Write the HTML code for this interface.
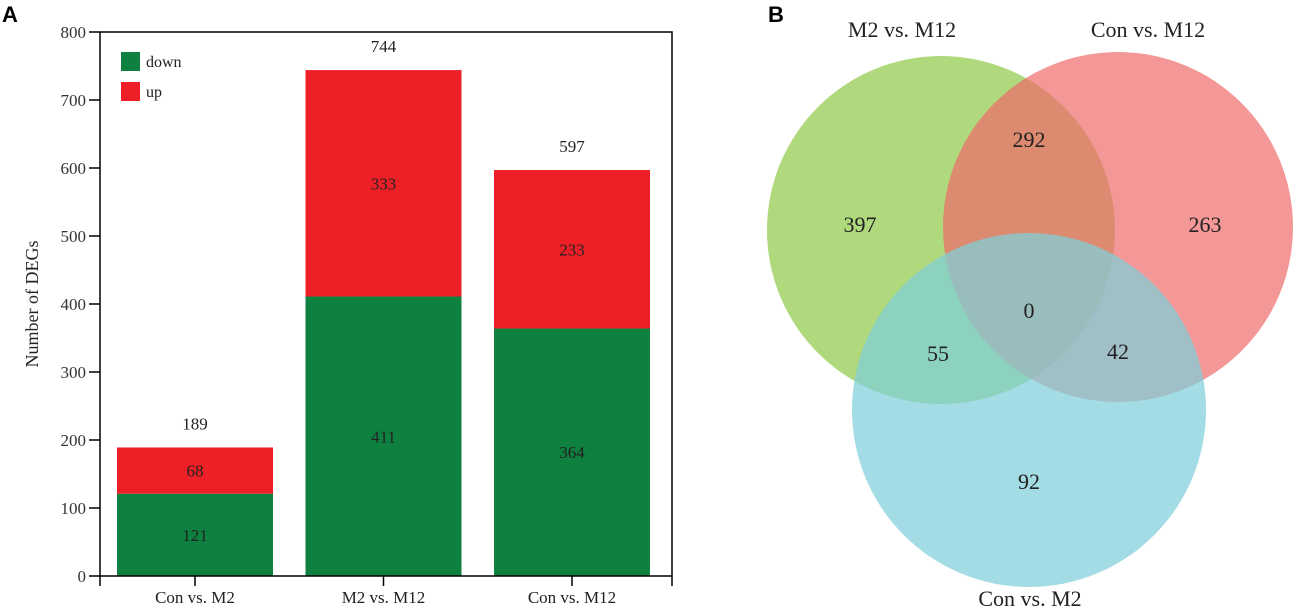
<!DOCTYPE html>
<html><head><meta charset="utf-8"><style>
body{margin:0;background:#fff}
svg text{font-family:"Liberation Serif",serif}
</style></head><body>
<svg width="1293" height="608" viewBox="0 0 1293 608" xmlns="http://www.w3.org/2000/svg">
<text x="2" y="22" style="font-family:'Liberation Sans',sans-serif" font-weight="bold" font-size="22">A</text>
<text x="768" y="22" style="font-family:'Liberation Sans',sans-serif" font-weight="bold" font-size="22">B</text>
<g id="chart"></g>
<g>
<circle cx="941" cy="230" r="174" fill="#9fcf5f" fill-opacity="0.82"/>
<circle cx="1118" cy="227" r="175" fill="#ef6b6b" fill-opacity="0.7"/>
<circle cx="1029" cy="410" r="177" fill="#7fcfd9" fill-opacity="0.72"/>
<g font-size="22" fill="#222" text-anchor="middle">
<text x="902" y="37">M2 vs. M12</text>
<text x="1148" y="37">Con vs. M12</text>
<text x="1030" y="606">Con vs. M2</text>
<text x="860" y="232">397</text>
<text x="1029" y="147">292</text>
<text x="1205" y="232">263</text>
<text x="1029" y="318">0</text>
<text x="938" y="361">55</text>
<text x="1118" y="359">42</text>
<text x="1029" y="489">92</text>
</g></g>
</svg>
<script>
const categories=["Con vs. M2","M2 vs. M12","Con vs. M12"];
const downVals=[121,411,364];
const upVals=[68,333,233];
const totals=[189,744,597];
const yTicks=[0,100,200,300,400,500,600,700,800];
const NS="http://www.w3.org/2000/svg";
const g=document.getElementById('chart');
const X0=100,X1=672,Y0=576,Y1=32,YMAX=800;
const y=v=>Y0-(v/YMAX)*(Y0-Y1);
const xc=i=>X0+95+i*188.5;
const BW=156;
function mk(t,a){const e=document.createElementNS(NS,t);for(const k in a)e.setAttribute(k,a[k]);g.appendChild(e);return e;}
let e;
categories.forEach((c,i)=>{
 const cx=xc(i), d=downVals[i], u=upVals[i];
 e=mk('rect',{x:cx-BW/2,y:y(d),width:BW,height:Y0-y(d),fill:'#0e8040'});
 
 
 e=mk('rect',{x:cx-BW/2,y:y(d+u),width:BW,height:y(d)-y(d+u),fill:'#ee1f27'});
 
 
 e=mk('text',{x:cx,y:y(d/2)+6,'text-anchor':'middle','font-size':17,fill:'#222'});e.textContent=d;
 
 
 e=mk('text',{x:cx,y:y(d+u/2)+6,'text-anchor':'middle','font-size':17,fill:'#222'});e.textContent=u;
 
 
 e=mk('text',{x:cx,y:y(totals[i])-18,'text-anchor':'middle','font-size':17,fill:'#222'});e.textContent=totals[i];
 
 
 e=mk('line',{x1:cx,x2:cx,y1:Y0,y2:Y0+10,stroke:'#000','stroke-width':1.5});
 
 
 e=mk('text',{x:cx,y:603,'text-anchor':'middle','font-size':17,fill:'#222'});e.textContent=c;
 
 
});
e=mk('rect',{x:X0,y:Y1,width:X1-X0,height:Y0-Y1,fill:'none',stroke:'#000','stroke-width':1.5});


e=mk('line',{x1:X0,x2:X0,y1:Y0,y2:Y0+10,stroke:'#000','stroke-width':1.5});


e=mk('line',{x1:X1,x2:X1,y1:Y0,y2:Y0+10,stroke:'#000','stroke-width':1.5});


yTicks.forEach(t=>{
 e=mk('line',{x1:X0-11,x2:X0,y1:y(t),y2:y(t),stroke:'#000','stroke-width':1.5});
 
 
 e=mk('text',{x:X0-14,y:y(t)+6,'text-anchor':'end','font-size':17,fill:'#333'});e.textContent=t;
 
 
});
e=mk('text',{x:0,y:0,transform:'translate(38,304) rotate(-90)','text-anchor':'middle','font-size':18,fill:'#222'});e.textContent='Number of DEGs';


e=mk('rect',{x:121,y:52,width:19,height:19,fill:'#0e8040'});


e=mk('rect',{x:121,y:82,width:19,height:19,fill:'#ee1f27'});


e=mk('text',{x:146,y:67,'font-size':16,fill:'#222'});e.textContent='down';


e=mk('text',{x:146,y:97,'font-size':16,fill:'#222'});e.textContent='up';


</script>
</body></html>
